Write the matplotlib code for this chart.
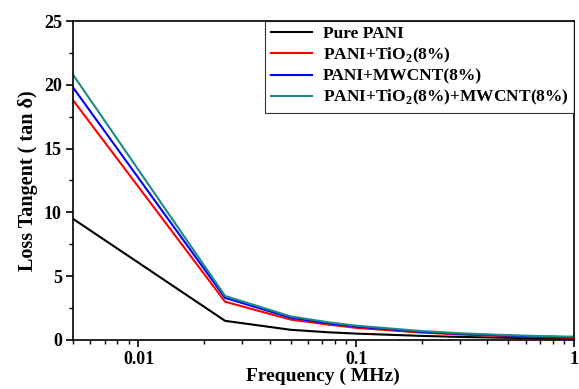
import matplotlib
matplotlib.use("Agg")
import matplotlib.pyplot as plt
from matplotlib.ticker import FixedLocator, NullFormatter, MultipleLocator

plt.rcParams['font.family'] = ['Liberation Serif', 'DejaVu Serif']
plt.rcParams['font.weight'] = 'bold'
plt.rcParams['mathtext.fontset'] = 'custom'
plt.rcParams['mathtext.rm'] = 'Liberation Serif:bold'
plt.rcParams['mathtext.bf'] = 'Liberation Serif:bold'

# frequency in MHz
freq = [0.005, 0.025, 0.05, 0.075, 0.1, 0.2, 0.3, 0.4, 0.5, 0.6, 0.7, 0.8, 0.9, 1.0]
pure_pani = [9.5, 1.5, 0.8, 0.6, 0.5, 0.32, 0.24, 0.2, 0.17, 0.15, 0.13, 0.12, 0.11, 0.1]
pani_tio2 = [18.8, 3.0, 1.6, 1.2, 0.95, 0.58, 0.43, 0.35, 0.3, 0.26, 0.23, 0.21, 0.2, 0.18]
pani_mwcnt = [19.8, 3.3, 1.75, 1.3, 1.05, 0.64, 0.48, 0.4, 0.34, 0.3, 0.27, 0.25, 0.23, 0.22]
pani_both = [20.8, 3.45, 1.85, 1.38, 1.12, 0.7, 0.53, 0.44, 0.38, 0.34, 0.31, 0.29, 0.27, 0.26]

labels = ['Pure PANI', r'PANI+TiO$_\mathbf{2}$(8%)', 'PANI+MWCNT(8%)',
          r'PANI+TiO$_\mathbf{2}$(8%)+MWCNT(8%)']
colors = ['black', 'red', 'blue', '#1a8a84']

fig = plt.figure(figsize=(5.79, 3.89), dpi=100)
ax = fig.add_axes([0.126, 0.126, 0.865, 0.820])

for ys, lab, c in zip([pure_pani, pani_tio2, pani_mwcnt, pani_both], labels, colors):
    ax.plot(freq, ys, color=c, lw=1.5, label=lab)

ax.set_xscale('log')
ax.set_xlim(0.005, 1)
ax.set_ylim(0, 25)
ax.xaxis.set_major_locator(FixedLocator([0.01, 0.1, 1]))
ax.set_xticklabels(['0.01', '0.1', '1'])
ax.xaxis.set_minor_locator(FixedLocator([0.005, 0.006, 0.007, 0.008, 0.009,
                                          0.02, 0.03, 0.04, 0.05, 0.06, 0.07, 0.08, 0.09,
                                          0.2, 0.3, 0.4, 0.5, 0.6, 0.7, 0.8, 0.9]))
ax.xaxis.set_minor_formatter(NullFormatter())
ax.yaxis.set_major_locator(MultipleLocator(5))
ax.yaxis.set_minor_locator(MultipleLocator(2.5))
ax.tick_params(which='major', direction='out', length=5, width=1.2, labelsize=13, pad=3)
ax.tick_params(which='minor', direction='out', length=3, width=1)
for sp in ax.spines.values():
    sp.set_linewidth(1.2)

ax.set_xlabel('Frequency ( MHz)', fontsize=14, fontweight='bold', labelpad=0)
ax.set_ylabel(r'Loss Tangent ( tan δ)', fontsize=14.5, fontweight='bold', labelpad=4)

leg = ax.legend(loc='upper right', fontsize=12.5, frameon=True, fancybox=False,
                borderaxespad=0, handlelength=2.4, handletextpad=0.6,
                labelspacing=0.2, borderpad=0.3)
leg.get_frame().set_edgecolor('black')
leg.get_frame().set_linewidth(0.8)

fig.savefig('out.png', dpi=100)
